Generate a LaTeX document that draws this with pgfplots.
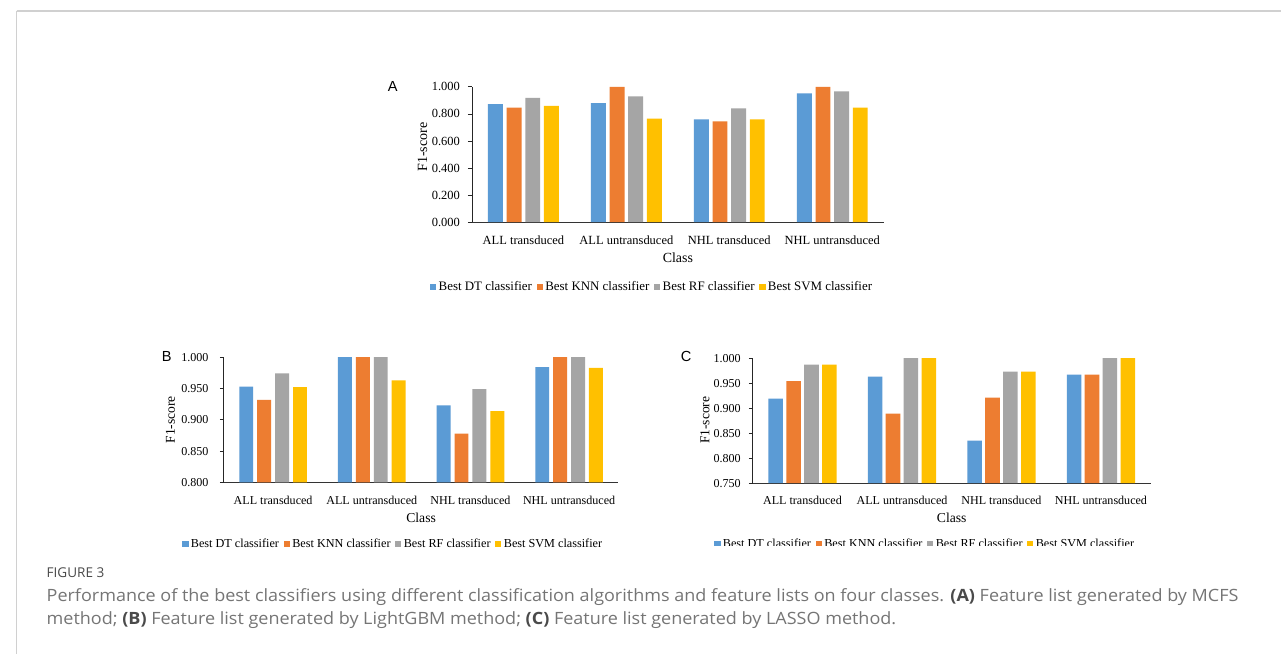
\documentclass[border=0pt]{standalone}
\usepackage{pgfplots}
\pgfplotsset{compat=1.18}
\usepackage{graphicx}
\usepackage{fontspec}
\setmainfont{Liberation Serif}
\newfontfamily\panelfont{Liberation Sans}
\newfontfamily\capfont{Open Sans}
\definecolor{dtblue}{HTML}{5B9BD5}
\definecolor{knnorange}{HTML}{ED7D31}
\definecolor{rfgray}{HTML}{A5A5A5}
\definecolor{svmgold}{HTML}{FFC000}
\definecolor{capgray}{HTML}{757575}
\definecolor{capdark}{HTML}{4A4A4A}
\definecolor{framegray}{HTML}{D0D0D0}

\pgfplotsset{
  sqlegend/.style={legend image code/.code={\fill[##1] (0pt,-2.3pt) rectangle (4.6pt,2.3pt);}},
  panel/.style={
    scale only axis, anchor=south west,
    ybar,
    xmin=-0.5, xmax=3.5, xtick={0,1,2,3},
    xticklabels={ALL transduced, ALL untransduced, NHL transduced, NHL untransduced},
    axis x line*=bottom, axis y line*=left,
    y axis line style={black!85, line width=0.6pt},
    x axis line style={black!80, line width=0.9pt},
    tick align=outside,
    major tick length=3pt,
    ytick style={black!85, line width=0.6pt},
    xtick style={draw=none},
    xticklabel style={yshift=-3.5pt},
    xlabel={Class}, ylabel={F1-score},
    legend columns=4,
    every axis plot post/.append style={sqlegend},
    legend style={draw=none, fill=none, anchor=center,
      nodes={inner xsep=1.8pt, inner ysep=1pt},
      /tikz/every even column/.append style={column sep=1.8pt}},
    clip=false,
  }
}

\newlength\capw
\newcommand\capone{Performance of the best classifiers using different classification algorithms and feature lists on four classes. {\color{capdark}\bfseries(A)} Feature list generated by MCFS}
\newcommand\captwo{method; {\color{capdark}\bfseries(B)} Feature list generated by LightGBM method; {\color{capdark}\bfseries(C)} Feature list generated by LASSO method.}

\begin{document}
\settowidth\capw{\capfont\fontsize{12.75}{15}\selectfont\capone}
\pgfmathsetmacro\capsx{898.5/\capw}
\begin{tikzpicture}
\begin{scope}[x=0.75pt,y=-0.75pt]
  \path[use as bounding box, fill=white] (0,0) rectangle (1281,657);
  \draw[framegray, line width=1.2pt] (10,11) -- (1281,11);
  \draw[framegray, line width=0.75pt] (10,11) -- (10,657);
\end{scope}

% Panel A
\begin{axis}[panel,
  at={({467.7*0.75pt},{-223.3*0.75pt})},
  width=310.5pt, height=102pt,
  bar width=11.25pt, ybar=2.8pt,
  ymin=0, ymax=1,
  ytick={0,0.2,0.4,0.6,0.8,1},
  yticklabels={0.000,0.200,0.400,0.600,0.800,1.000},
  ticklabel style={font=\fontsize{9.4}{11}\selectfont},
  yticklabel style={xshift=-2.5pt},
  xlabel style={font=\fontsize{10.5}{12}\selectfont, at={(axis description cs:0.5,-0.262)}, anchor=center},
  ylabel style={font=\fontsize{10.6}{12}\selectfont, at={(axis description cs:-0.12,0.555)}, anchor=center},
  legend style={at={(axis description cs:0.438,-0.482)}, font=\fontsize{9.75}{11}\selectfont},
]
\addplot[fill=dtblue, draw=none] coordinates {(0,0.873) (1,0.880) (2,0.760) (3,0.951)};
\addplot[fill=knnorange, draw=none] coordinates {(0,0.846) (1,1.000) (2,0.745) (3,1.000)};
\addplot[fill=rfgray, draw=none] coordinates {(0,0.919) (1,0.929) (2,0.841) (3,0.966)};
\addplot[fill=svmgold, draw=none] coordinates {(0,0.860) (1,0.765) (2,0.760) (3,0.846)};
\legend{Best DT classifier, Best KNN classifier, Best RF classifier, Best SVM classifier}
\end{axis}

% Panel B
\begin{axis}[panel,
  at={({218.3*0.75pt},{-485*0.75pt})},
  width=297.5pt, height=94.5pt,
  bar width=10.5pt, ybar=3pt,
  ymin=0.8, ymax=1,
  ytick={0.8,0.85,0.9,0.95,1},
  yticklabels={0.800,0.850,0.900,0.950,1.000},
  ticklabel style={font=\fontsize{9.1}{11}\selectfont},
  yticklabel style={xshift=-5pt},
  xlabel style={font=\fontsize{10.3}{12}\selectfont, at={(axis description cs:0.5,-0.28)}, anchor=center},
  ylabel style={font=\fontsize{10.2}{12}\selectfont, at={(axis description cs:-0.135,0.5)}, anchor=center},
  legend style={at={(axis description cs:0.43,-0.49)}, font=\fontsize{9.2}{11}\selectfont},
]
\addplot[fill=dtblue, draw=none] coordinates {(0,0.953) (1,1.000) (2,0.923) (3,0.984)};
\addplot[fill=knnorange, draw=none] coordinates {(0,0.932) (1,1.000) (2,0.878) (3,1.000)};
\addplot[fill=rfgray, draw=none] coordinates {(0,0.974) (1,1.000) (2,0.949) (3,1.000)};
\addplot[fill=svmgold, draw=none] coordinates {(0,0.952) (1,0.963) (2,0.914) (3,0.983)};
\legend{Best DT classifier, Best KNN classifier, Best RF classifier, Best SVM classifier}
\end{axis}

% Panel C
\begin{axis}[panel,
  at={({750*0.75pt},{-485.7*0.75pt})},
  width=300pt, height=94.3pt,
  bar width=11pt, ybar=2.5pt,
  ymin=0.75, ymax=1,
  ytick={0.75,0.8,0.85,0.9,0.95,1},
  yticklabels={0.750,0.800,0.850,0.900,0.950,1.000},
  ticklabel style={font=\fontsize{9.1}{11}\selectfont},
  yticklabel style={xshift=-2.5pt},
  xlabel style={font=\fontsize{10.3}{12}\selectfont, at={(axis description cs:0.5,-0.28)}, anchor=center},
  ylabel style={font=\fontsize{10.2}{12}\selectfont, at={(axis description cs:-0.12,0.503)}, anchor=center},
  legend style={at={(axis description cs:0.434,-0.49)}, font=\fontsize{9.2}{11}\selectfont},
]
\addplot[fill=dtblue, draw=none] coordinates {(0,0.919) (1,0.963) (2,0.835) (3,0.967)};
\addplot[fill=knnorange, draw=none] coordinates {(0,0.954) (1,0.889) (2,0.921) (3,0.967)};
\addplot[fill=rfgray, draw=none] coordinates {(0,0.987) (1,1.000) (2,0.973) (3,1.000)};
\addplot[fill=svmgold, draw=none] coordinates {(0,0.987) (1,1.000) (2,0.973) (3,1.000)};
\legend{Best DT classifier, Best KNN classifier, Best RF classifier, Best SVM classifier}
\end{axis}

\begin{scope}[x=0.75pt,y=-0.75pt]
  % crop of panel C legend
  \fill[white] (690,548.5) rectangle (1160,557);
  \node[font=\panelfont\fontsize{11}{13}\selectfont] at (388,87) {A};
  \node[font=\panelfont\fontsize{11}{13}\selectfont] at (161,358) {B};
  \node[font=\panelfont\fontsize{11}{13}\selectfont] at (683,358) {C};
  \node[anchor=west, inner sep=0pt, text=capdark, font=\capfont\fontsize{10.2}{12}\selectfont] at (40,576) {FIGURE 3};
  \node[anchor=west, inner sep=0pt, text=capgray] at (40,600) {\scalebox{\capsx}[1]{\capfont\fontsize{12.75}{15}\selectfont\capone}};
  \node[anchor=west, inner sep=0pt, text=capgray] at (40,623) {\scalebox{\capsx}[1]{\capfont\fontsize{12.75}{15}\selectfont\captwo}};
\end{scope}
\end{tikzpicture}
\end{document}
